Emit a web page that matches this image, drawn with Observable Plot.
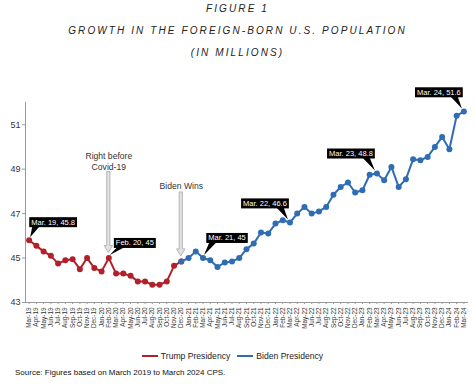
<!DOCTYPE html>
<html><head><meta charset="utf-8">
<script src="https://cdn.jsdelivr.net/npm/d3@7"></script>
<script src="https://cdn.jsdelivr.net/npm/@observablehq/plot@0.6"></script>
<style>
body{margin:0;background:#fff;width:475px;height:388px;position:relative;overflow:hidden;font-family:"Liberation Sans",Arial,sans-serif;}
.t{position:absolute;left:0;width:475px;text-align:center;font-style:italic;font-size:10px;letter-spacing:2.1px;color:#222;line-height:12px;white-space:nowrap;}
#chart{position:absolute;left:0;top:64px;}
#chart g[aria-label="x-axis tick label"]{font-size:6.4px;fill:#333;}
#chart g[aria-label="y-axis tick label"]{font-size:9px;fill:#333;}
#legend{position:absolute;left:0;top:349px;width:475px;height:14px;display:flex;justify-content:center;align-items:center;font-size:8.6px;color:#222;box-sizing:border-box;padding-right:10px;}
#legend .item{display:flex;align-items:center;margin:0 3.5px;}
#legend .sw{width:16px;height:2px;margin-right:3px;}
#source{position:absolute;left:15px;top:367px;font-size:8px;line-height:12px;color:#111;white-space:nowrap;}
</style></head>
<body>
<div class="t" style="top:3px">FIGURE 1</div>
<div class="t" style="top:25px">GROWTH IN THE FOREIGN-BORN U.S. POPULATION</div>
<div class="t" style="top:47px">(IN MILLIONS)</div>
<div id="chart"></div>
<div id="legend"></div>
<div id="source">Source: Figures based on March 2019 to March 2024 CPS.</div>
<script>
const months = ["Mar-19","Apr-19","May-19","Jun-19","Jul-19","Aug-19","Sep-19","Oct-19","Nov-19","Dec-19",
  "Jan-20","Feb-20","Mar-20","Apr-20","May-20","Jun-20","Jul-20","Aug-20","Sep-20","Oct-20","Nov-20","Dec-20",
  "Jan-21","Feb-21","Mar-21","Apr-21","May-21","Jun-21","Jul-21","Aug-21","Sep-21","Oct-21","Nov-21","Dec-21",
  "Jan-22","Feb-22","Mar-22","Apr-22","May-22","Jun-22","Jul-22","Aug-22","Sep-22","Oct-22","Nov-22","Dec-22",
  "Jan-23","Feb-23","Mar-23","Apr-23","May-23","Jun-23","Jul-23","Aug-23","Sep-23","Oct-23","Nov-23","Dec-23",
  "Jan-24","Feb-24","Mar-24"];
// Trump presidency: Mar-19 .. Dec-20
const trumpValues = [45.8,45.55,45.3,45.1,44.75,44.9,44.95,44.5,45.0,44.55,44.4,45.0,44.3,44.3,44.2,43.95,43.95,43.8,43.8,43.95,44.65,44.85];
// Biden presidency: Dec-20 .. Mar-24
const bidenValues = [44.85,45.0,45.3,45.0,44.9,44.6,44.8,44.85,45.0,45.4,45.65,46.15,46.1,46.55,46.7,46.6,47.0,47.3,47.0,47.1,47.3,47.85,48.2,48.4,47.95,48.05,48.75,48.8,48.5,49.1,48.2,48.55,49.45,49.4,49.55,50.0,50.45,49.9,51.4,51.6];
const bidenStartMonth = "Dec-20";
const seriesNames = ["Trump Presidency","Biden Presidency"];
const seriesColors = ["#b0212a","#2e6db4"];
const yTicks = [43,45,47,49,51];
const callouts = [
  {month:"Mar-19", text:"Mar. 19, 45.8"},
  {month:"Feb-20", text:"Feb. 20, 45"},
  {month:"Mar-21", text:"Mar. 21, 45"},
  {month:"Mar-22", text:"Mar. 22, 46.6"},
  {month:"Mar-23", text:"Mar. 23, 48.8"},
  {month:"Mar-24", text:"Mar. 24, 51.6"}
];
const notes = [
  {month:"Feb-20", text:"Right before\nCovid-19"},
  {month:"Dec-20", text:"Biden Wins"}
];

// layout / style (pixel offsets relative to the data point)
const W = 475, H = 273, M = {top:38, right:8, bottom:35, left:25};
const calloutOffset = {
  "Mar-19":{dx:24, dy:-18}, "Feb-20":{dx:26, dy:-15}, "Mar-21":{dx:24, dy:-20},
  "Mar-22":{dx:-25, dy:-19}, "Mar-23":{dx:-26, dy:-20}, "Mar-24":{dx:-25, dy:-19}
};
const noteOffset = {
  "Feb-20":{textDy:-88, arrowTop:-86, arrowTip:-5},
  "Dec-20":{textDy:-72, arrowTop:-69, arrowTip:-5}
};

const trump = trumpValues.map((v,i)=>({month:months[i], value:v}));
const b0 = months.indexOf(bidenStartMonth);
const biden = bidenValues.map((v,i)=>({month:months[b0+i], value:v}));
const valueOf = new Map([...trump, ...biden].map(d=>[d.month, d.value]));
const calloutRows = callouts.map(c=>({...c, value:valueOf.get(c.month)}));
const noteRows = notes.map(n=>({...n, value:valueOf.get(n.month)}));

const chart = Plot.plot({
  width:W, height:H,
  marginLeft:M.left, marginRight:M.right, marginTop:M.top, marginBottom:M.bottom,
  style:{fontFamily:'"Liberation Sans", Arial, sans-serif', background:"transparent", color:"#9a9a9a", overflow:"visible"},
  x:{type:"point", domain:months, padding:0.5, align:0.5, round:false, label:null, tickRotate:-90, tickSize:2, tickPadding:3, line:true},
  y:{domain:[43,52], ticks:yTicks, label:null, tickSize:3, tickPadding:2, line:true},
  marks:[
    Plot.line(trump, {x:"month", y:"value", stroke:seriesColors[0], strokeWidth:2}),
    Plot.dot(trump, {x:"month", y:"value", fill:seriesColors[0], r:3}),
    Plot.line(biden, {x:"month", y:"value", stroke:seriesColors[1], strokeWidth:2}),
    Plot.dot(biden, {x:"month", y:"value", fill:seriesColors[1], r:3}),
    ...noteRows.map(n=>Plot.text([n], {x:"month", y:"value", text:"text", dy:noteOffset[n.month].textDy,
      lineAnchor:"bottom", fontSize:8.6, fill:"#333", lineHeight:1.28})),
    ...calloutRows.map(c=>Plot.text([c], {x:"month", y:"value", text:"text",
      dx:calloutOffset[c.month].dx, dy:calloutOffset[c.month].dy, fill:"white", fontSize:7.5}))
  ]
});
document.getElementById("chart").appendChild(chart);

// scale helpers
const sx = chart.scale("x"), sy = chart.scale("y");
const fx = sx.apply ? v=>sx.apply(v) : d3.scalePoint().domain(sx.domain).range(sx.range).padding(sx.padding).align(sx.align ?? 0.5);
const fy = sy.apply ? v=>sy.apply(v) : d3.scaleLinear().domain(sy.domain).range(sy.range);

const svgNode = chart.tagName.toLowerCase()==="svg" ? chart : chart.querySelector("svg");
const svg = d3.select(svgNode);
const svgRect = svgNode.getBoundingClientRect();

// black callout boxes and pointers
const allTexts = Array.from(svgNode.querySelectorAll("text"));
calloutRows.forEach(c => {
  const t = allTexts.find(el => el.textContent === c.text);
  if (!t) return;
  const g = t.parentNode;
  const layer = d3.select(g.parentNode).insert("g", () => g);
  const r = t.getBoundingClientRect();
  const x0 = r.left - svgRect.left - 2, x1 = r.right - svgRect.left + 2;
  const y0 = r.top - svgRect.top - 0.5, y1 = r.bottom - svgRect.top + 0.5;
  const px = fx(c.month), py = fy(c.value);
  let pts;
  if (px < (x0 + x1) / 2) pts = [[x0 + 3, y1 - 0.5], [x0 + 10, y1 - 0.5], [px + 1.5, py - 2.5]];
  else pts = [[x1 - 12, y1 - 0.5], [x1 - 5, y1 - 0.5], [px - 1.5, py - 2.5]];
  layer.append("polygon").attr("points", pts.map(p => p.join(",")).join(" ")).attr("fill", "#000");
  layer.append("rect").attr("x", x0).attr("y", y0).attr("width", x1 - x0).attr("height", y1 - y0).attr("fill", "#000");
});

// gray annotation arrows
noteRows.forEach(n => {
  const o = noteOffset[n.month];
  const px = fx(n.month), py = fy(n.value);
  const top = py + o.arrowTop, tip = py + o.arrowTip, hl = 7, sw = 1.6, hw = 4.2;
  const d = `M${px - sw},${top} L${px + sw},${top} L${px + sw},${tip - hl} L${px + hw},${tip - hl} L${px},${tip} L${px - hw},${tip - hl} L${px - sw},${tip - hl} Z`;
  svg.append("path").attr("d", d).attr("fill", "#e2e2e2").attr("stroke", "#a8a8a8").attr("stroke-width", 0.8);
});

// legend
const legend = document.getElementById("legend");
seriesNames.forEach((name, i) => {
  const item = document.createElement("div"); item.className = "item";
  const sw = document.createElement("div"); sw.className = "sw"; sw.style.background = seriesColors[i];
  const lab = document.createElement("span"); lab.textContent = name;
  item.appendChild(sw); item.appendChild(lab); legend.appendChild(item);
});
</script>
</body></html>
